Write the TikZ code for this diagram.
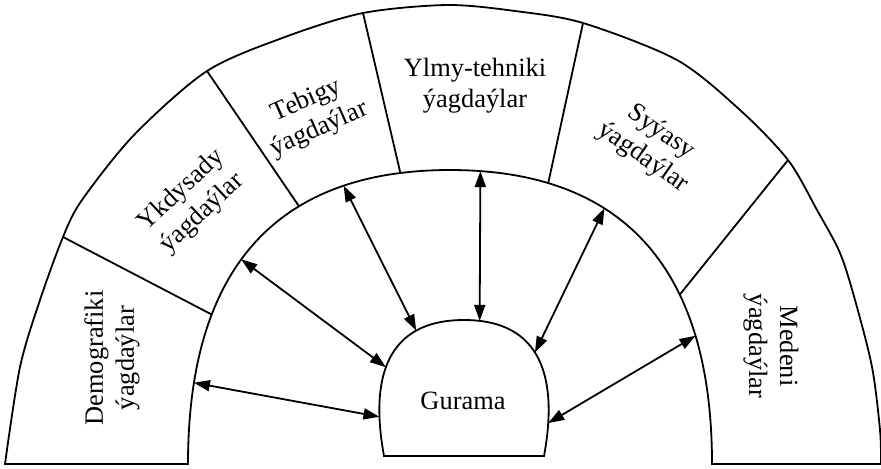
\documentclass[tikz,border=0pt]{standalone}
\usepackage{fontspec}
\setmainfont{Liberation Serif}
\usetikzlibrary{arrows.meta}

\begin{document}
\begin{tikzpicture}[
  x=0.5pt, y=-0.5pt,
  line width=0.9pt,
  lbl/.style={align=center, inner sep=0pt, font=\fontsize{13.2}{15.5}\selectfont},
  >={Triangle[length=8pt, width=5.5pt]}
]
\useasboundingbox (0,0) rectangle (881,468);

% ring of factors
\draw plot[smooth] coordinates {(5,464) (20,367) (40,300) (63,237) (82,200) (134,135)
    (207,71) (285,37) (363,13) (447,5) (515,11) (583,23) (677,60) (740,110) (788,160)
    (817,210) (840,253) (855,300) (872,367) (880,430) (881,464)}
  -- (712,464)
  .. controls (712,269) and (624,170) .. (450,170)
     coordinate[pos=0.25] (med-a) coordinate[pos=0.35] (id5)
     coordinate[pos=0.64] (syy-a) coordinate[pos=0.79] (id4)
     coordinate[pos=0.94] (ylm-a)
  .. controls (276,170) and (188,269) .. (188,464)
     coordinate[pos=0.1] (id3) coordinate[pos=0.23] (teb-a)
     coordinate[pos=0.35] (id2) coordinate[pos=0.55] (ykd-a)
     coordinate[pos=0.7] (id1) coordinate[pos=0.85] (dem-a)
  -- cycle;

% Gurama outline
\draw (384,456) .. controls (370,380) and (385,320) .. (464,320)
     coordinate[pos=0.18] (dem-g) coordinate[pos=0.45] (ykd-g)
     coordinate[pos=0.75] (teb-g)
  .. controls (543,320) and (558,380) .. (544,456)
     coordinate[pos=0.07] (ylm-g) coordinate[pos=0.45] (syy-g)
     coordinate[pos=0.85] (med-g)
  -- cycle;

\coordinate (od1) at (63,237);
\coordinate (od2) at (207,71);
\coordinate (od3) at (363,13);
\coordinate (od4) at (583,23);
\coordinate (od5) at (788,160);
\foreach \i in {1,...,5}
  \draw (od\i) -- (id\i);

\node[lbl, rotate=90] (dem) at (112,358) {Demografiki\\ýagdaýlar};
\node[lbl, rotate=43] (ykd) at (192,202) {Ykdysady\\ýagdaýlar};
\node[lbl, rotate=24] (teb) at (313,115) {Tebigy\\ýagdaýlar};
\node[lbl] (ylm) at (475,86) {Ylmy-tehniki\\ýagdaýlar};
\node[lbl, rotate=-35] (syy) at (652,145) {Syýasy\\ýagdaýlar};
\node[lbl, rotate=-90] (med) at (771,346) {Medeni\\ýagdaýlar};
\node[lbl] (gur) at (463,401) {Gurama};

\foreach \s in {dem,ykd,teb,ylm,syy,med}
  \draw[<->] (\s-a) -- (\s-g);
\end{tikzpicture}
\end{document}
